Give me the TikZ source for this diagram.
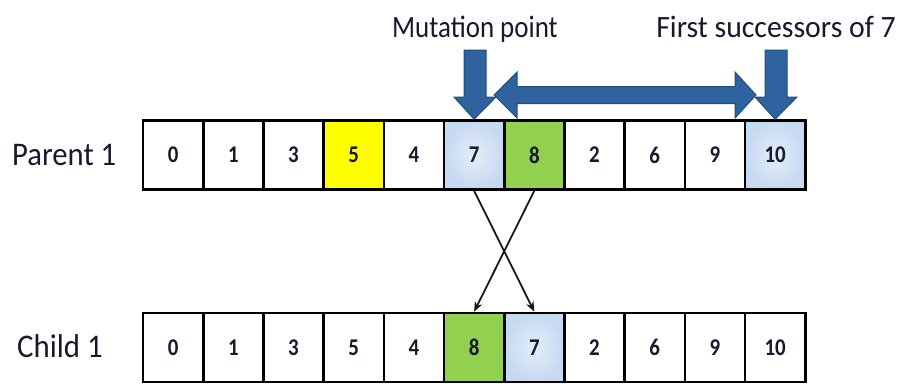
\documentclass[tikz,border=0pt]{standalone}
\usepackage{fontspec}
\setmainfont{Carlito}
\usetikzlibrary{arrows.meta}

\definecolor{cellblue}{HTML}{C6D9F1}
\definecolor{cellblueglow}{HTML}{E4EDF8}
\definecolor{cellgreen}{HTML}{92D050}
\definecolor{cellyellow}{HTML}{FFFF00}
\definecolor{arrowfill}{HTML}{2E63A0}
\definecolor{arrowedge}{HTML}{1F4E79}
\definecolor{inktext}{HTML}{151A2C}

\tikzset{
  gene/.style={draw=black, line width=2.6pt, minimum width=60.2pt, minimum height=69pt,
    inner sep=0pt, text=inktext,
    font=\fontsize{24}{26}\selectfont\bfseries},
  plain/.style={gene, fill=white},
  yellowgene/.style={gene, fill=cellyellow},
  greengene/.style={gene, fill=cellgreen},
  bluegene/.style={gene, inner color=cellblueglow, outer color=cellblue},
  rowlabel/.style={anchor=base west, inner sep=0pt, text=inktext,
    font=\fontsize{33}{36}\selectfont},
  toplabel/.style={anchor=base, inner sep=0pt, text=inktext,
    font=\fontsize{31}{34}\selectfont},
  blockarrow/.style={fill=arrowfill, draw=arrowedge, line width=1pt, line join=miter},
  swap/.style={draw=black!90, line width=1.8pt, -{Stealth[length=10pt,width=8pt]}}
}

\newcommand{\narrow}[2][0.87]{\scalebox{#1}[1]{#2}}

\begin{document}
\begin{tikzpicture}[x=1pt, y=-1pt]
  \useasboundingbox (0,0) rectangle (899,383);

  % parent chromosome
  \foreach \v/\s [count=\i from 0] in {0/plain,1/plain,3/plain,5/yellowgene,4/plain,
      7/bluegene,8/greengene,2/plain,6/plain,9/plain,10/bluegene}
    \node[\s] (p\i) at (173.1+60.2*\i, 155) {\narrow{\v}};

  % child chromosome
  \foreach \v/\s [count=\i from 0] in {0/plain,1/plain,3/plain,5/plain,4/plain,
      8/greengene,7/bluegene,2/plain,6/plain,9/plain,10/plain}
    \node[\s] (c\i) at (173.1+60.2*\i, 347.5) {\narrow{\v}};

  % row labels
  \node[rowlabel] (lparent) at (12, 165) {\narrow[0.93]{Parent 1}};
  \node[rowlabel] (lchild) at (17, 357) {\narrow[0.935]{Child 1}};

  % labels above the parent
  \node[toplabel] (lmut) at (475, 37) {\narrow{Mutation point}};
  \node[toplabel] (lsucc) at (776, 37) {\narrow[0.96]{First successors of 7}};

  % down arrow onto the mutation point
  \draw[blockarrow] (464,50) -- (486,50) -- (486,97) -- (496,97) -- (p5.north)
    -- (454,97) -- (464,97) -- cycle;

  % down arrow onto the first successor
  \draw[blockarrow] (765,50) -- (787,50) -- (787,97) -- (797,97) -- (p10.north)
    -- (755,97) -- (765,97) -- cycle;

  % double arrow spanning the successors
  \draw[blockarrow] (494,95) -- (517,72) -- (517,86.5) -- (735,86.5) -- (735,72)
    -- (756,95) -- (735,118) -- (735,103.5) -- (517,103.5) -- (517,118) -- cycle;

  % swapped genes
  \draw[swap] (p5.south) -- (c6.north);
  \draw[swap] (p6.south) -- (c5.north);
\end{tikzpicture}
\end{document}
